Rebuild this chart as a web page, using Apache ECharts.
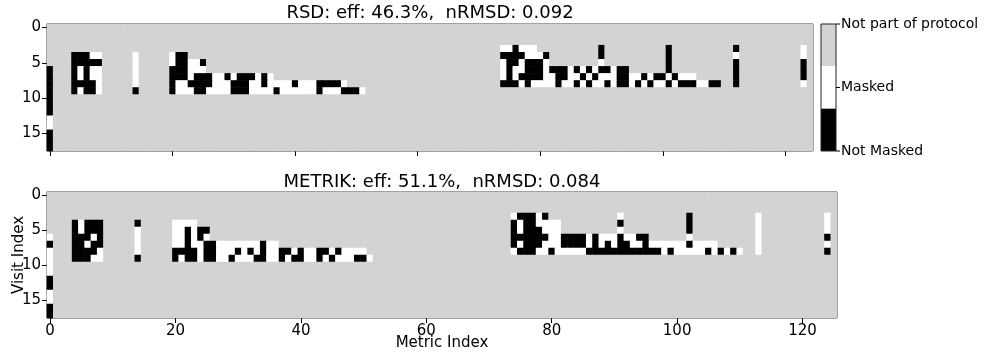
<!DOCTYPE html>
<html>
<head>
<meta charset="utf-8">
<script src="https://cdn.jsdelivr.net/npm/echarts@6/dist/echarts.min.js"></script>
<style>
html,body{margin:0;padding:0;background:#fff;}
#chart{width:985px;height:356px;}
</style>
</head>
<body>
<div id="chart"></div>
<script>
// cell codes: '#' = Not Masked, 'o' = Masked, anything not listed = Not part of protocol
var nRows = 18;
var rsdCols = 125;
var metrikCols = 126;
var stateNames = ['Not Masked', 'Masked', 'Not part of protocol'];
var stateColors = ['#000000', '#ffffff', '#d3d3d3'];
var xTicks = [0, 20, 40, 60, 80, 100, 120];
var yTicks = [0, 5, 10, 15];

// rows of the RSD mask: [start column, cells]
var rsdRows = [
    [],
    [],
    [],
    [[74,'oo#ooo'],[90,'#'],[101,'#'],[112,'#'],[123,'o']],
    [[4,'###oo'],[14,'o'],[20,'o##'],[74,'####ooo#'],[90,'#'],[101,'#'],[112,'o'],[123,'o']],
    [[4,'#####'],[14,'o'],[20,'o##oo#'],[74,'o##o###o'],[90,'o'],[101,'#'],[112,'#'],[123,'#']],
    [[0,'#'],[4,'#o#oo'],[14,'o'],[20,'###ooo'],[74,'o#oo###o###o#o#o##o##'],[101,'#'],[112,'#'],[123,'#']],
    [[0,'#'],[4,'#o#oo'],[14,'o'],[20,'###o##'],[26,'#oo#o###o#o'],[74,'o#o####oo##oo#o#ooo##oo#o##o#ooo'],[112,'#'],[123,'#']],
    [[0,'#'],[4,'####o'],[14,'o'],[20,'#oo###'],[26,'#ooo###oo#oooo#ooo####o'],[74,'###o#oooo#oo#o#oo#o##o#o#oo#o###oo##'],[112,'#'],[123,'o']],
    [[0,'#'],[4,'#o##o'],[14,'#'],[20,'#ooo##'],[26,'oooo###oooo#oooooo#ooo###o']],
    [[0,'#']],
    [[0,'#']],
    [[0,'#']],
    [[0,'o']],
    [[0,'o']],
    [[0,'#']],
    [[0,'#']],
    [[0,'#']]
];

// rows of the METRIK mask
var metrikRows = [
    [],
    [],
    [],
    [[74,'o###o#'],[91,'o'],[102,'#'],[113,'o'],[124,'o']],
    [[4,'#o###'],[14,'#'],[20,'oooo'],[74,'#o##oooo'],[91,'#'],[102,'#'],[113,'o'],[124,'o']],
    [[4,'#o###'],[14,'o'],[20,'oo#o##'],[74,'#o###ooo'],[91,'o'],[102,'#'],[113,'o'],[124,'o']],
    [[0,'o'],[4,'###o#'],[14,'o'],[20,'oo#o#o'],[74,'######oo####o#ooo#oo##'],[102,'o'],[113,'o'],[124,'#']],
    [[0,'#'],[4,'##o##'],[14,'o'],[20,'oo#oo#'],[26,'#ooooooo#oo'],[74,'#o###ooo####o#o#o##oo#oooooo#oooo'],[113,'o'],[124,'o']],
    [[0,'o'],[4,'####o'],[14,'o'],[20,'####o#'],[26,'#ooo#o#o#oo##o#oo##o#oooo'],[74,'o###oo#ooooo############o#ooooo#o#o#o'],[113,'o'],[124,'#']],
    [[0,'o'],[4,'###oo'],[14,'#'],[20,'#o##o#'],[26,'#oo#ooo##oo#o##oo#o#ooo##o']],
    [[0,'o']],
    [[0,'o']],
    [[0,'#']],
    [[0,'#']],
    [[0,'o']],
    [[0,'o']],
    [[0,'#']],
    [[0,'#']]
];

function range(n){
    var a = [];
    for(var i=0;i<n;i++){ a.push(String(i)); }
    return a;
}

function buildCells(rows, nCols){
    var out = [];
    for(var y=0;y<nRows;y++){
        var line = [];
        for(var x=0;x<nCols;x++){ line.push(2); }
        (rows[y] || []).forEach(function(seg){
            for(var i=0;i<seg[1].length;i++){
                line[seg[0]+i] = seg[1].charAt(i) == '#' ? 0 : 1;
            }
        });
        for(var x2=0;x2<nCols;x2++){ out.push([x2, y, line[x2]]); }
    }
    return out;
}

var font = 'DejaVu Sans';

function isXTick(i){ return xTicks.indexOf(i) >= 0; }
function isYTick(i){ return yTicks.indexOf(i) >= 0; }

function xAxisFor(gridIndex, n, showLabels){
    return {
        type: 'category',
        gridIndex: gridIndex,
        data: range(n),
        axisLine: { show: false },
        axisTick: {
            show: true,
            alignWithLabel: true,
            interval: function(i){ return isXTick(i); },
            length: 5,
            lineStyle: { color: '#000', width: 1 }
        },
        axisLabel: {
            show: showLabels,
            interval: function(i){ return isXTick(i); },
            margin: 6,
            color: '#000',
            fontFamily: font,
            fontSize: 15
        },
        splitLine: { show: false }
    };
}

function yAxisFor(gridIndex){
    return {
        type: 'category',
        gridIndex: gridIndex,
        inverse: true,
        data: range(nRows),
        axisLine: { show: false },
        axisTick: {
            show: true,
            alignWithLabel: true,
            interval: function(i){ return isYTick(i); },
            length: 5,
            lineStyle: { color: '#000', width: 1 }
        },
        axisLabel: {
            interval: function(i){ return isYTick(i); },
            margin: 6,
            color: '#000',
            fontFamily: font,
            fontSize: 15
        },
        splitLine: { show: false }
    };
}

var myChart = echarts.init(document.getElementById('chart'), null, { renderer: 'canvas' });

var xTop = xAxisFor(0, rsdCols, false);
var xBottom = xAxisFor(1, metrikCols, true);
xBottom.name = 'Metric Index';
xBottom.nameLocation = 'middle';
xBottom.nameGap = 18;
xBottom.nameMoveOverlap = false;
xBottom.nameTextStyle = { color: '#000', fontFamily: font, fontSize: 15 };

var yTop = yAxisFor(0);
var yBottom = yAxisFor(1);
yBottom.name = 'Visit Index';
yBottom.nameLocation = 'middle';
yBottom.nameGap = 20;
yBottom.nameRotate = 90;
yBottom.nameMoveOverlap = false;
yBottom.nameTextStyle = { color: '#000', fontFamily: font, fontSize: 15 };

// colorbar
var cbX = 821, cbY = 24, cbW = 15, cbH = 127;
var cbGraphics = [];
stateColors.slice().reverse().forEach(function(c, i){
    cbGraphics.push({
        type: 'rect',
        shape: { x: cbX, y: cbY + i * cbH / 3, width: cbW, height: cbH / 3 },
        style: { fill: c }
    });
});
cbGraphics.push({
    type: 'rect',
    shape: { x: cbX, y: cbY, width: cbW, height: cbH },
    style: { fill: null, stroke: '#222', lineWidth: 1 }
});
var cbLabelY = [cbY + cbH, cbY + cbH / 2, cbY];
stateNames.forEach(function(name, i){
    cbGraphics.push({
        type: 'line',
        shape: { x1: cbX + cbW, y1: cbLabelY[i], x2: cbX + cbW + 4, y2: cbLabelY[i] },
        style: { stroke: '#000', lineWidth: 1 }
    });
    cbGraphics.push({
        type: 'text',
        style: {
            text: name,
            x: cbX + cbW + 5,
            y: cbLabelY[i],
            textAlign: 'left',
            textVerticalAlign: 'middle',
            font: '14px "DejaVu Sans"',
            fill: '#000'
        }
    });
});

var option = {
    animation: false,
    grid: [
        { left: 47, top: 24, width: 766, height: 127, outerBoundsMode: 'none', show: true, borderColor: '#222', borderWidth: 1, backgroundColor: '#d3d3d3' },
        { left: 47, top: 192, width: 790, height: 126, outerBoundsMode: 'none', show: true, borderColor: '#222', borderWidth: 1, backgroundColor: '#d3d3d3' }
    ],
    xAxis: [xTop, xBottom],
    yAxis: [yTop, yBottom],
    visualMap: {
        type: 'piecewise',
        show: false,
        dimension: 2,
        seriesIndex: [0, 1],
        pieces: [
            { value: 0, color: stateColors[0] },
            { value: 1, color: stateColors[1] },
            { value: 2, color: stateColors[2] }
        ]
    },
    series: [
        {
            name: 'RSD',
            type: 'heatmap',
            xAxisIndex: 0,
            yAxisIndex: 0,
            data: buildCells(rsdRows, rsdCols),
            itemStyle: { borderWidth: 0 },
            emphasis: { disabled: true }
        },
        {
            name: 'METRIK',
            type: 'heatmap',
            xAxisIndex: 1,
            yAxisIndex: 1,
            data: buildCells(metrikRows, metrikCols),
            itemStyle: { borderWidth: 0 },
            emphasis: { disabled: true }
        }
    ],
    graphic: [
        {
            type: 'text',
            style: {
                text: 'RSD: eff: 46.3%,  nRMSD: 0.092',
                x: 430, y: 13,
                textAlign: 'center', textVerticalAlign: 'middle',
                font: '18px "DejaVu Sans"', fill: '#000'
            }
        },
        {
            type: 'text',
            style: {
                text: 'METRIK: eff: 51.1%,  nRMSD: 0.084',
                x: 442, y: 182,
                textAlign: 'center', textVerticalAlign: 'middle',
                font: '18px "DejaVu Sans"', fill: '#000'
            }
        }
    ].concat(cbGraphics)
};

myChart.setOption(option);
</script>
</body>
</html>
